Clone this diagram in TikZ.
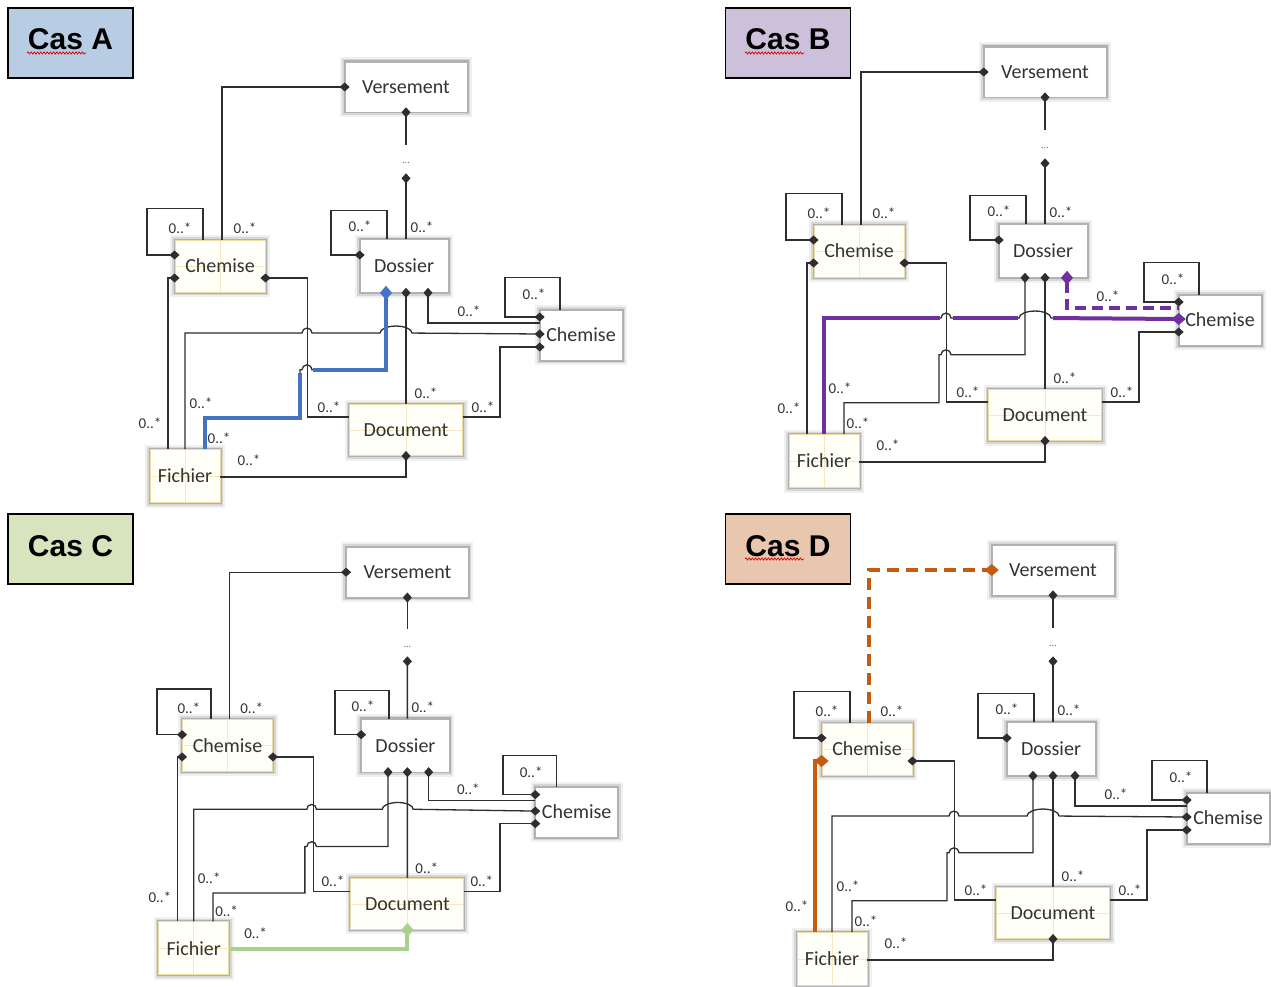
\documentclass[tikz,border=0pt]{standalone}
\usepackage{fontspec}
\setmainfont{Carlito}
\newfontfamily\titlefont{Liberation Sans}
\usetikzlibrary{arrows.meta,decorations.pathmorphing}

\definecolor{ink}{HTML}{2E2E2E}
\definecolor{txt}{HTML}{333333}
\definecolor{cream}{HTML}{FFFFF8}
\definecolor{creamedge}{HTML}{EFDDA6}
\definecolor{guide}{HTML}{F6E8C0}
\definecolor{tA}{HTML}{B8CCE4}
\definecolor{tB}{HTML}{CCC0DA}
\definecolor{tC}{HTML}{D7E4BD}
\definecolor{tD}{HTML}{E9C7AF}
\definecolor{hlA}{HTML}{4472C4}
\definecolor{hlB}{HTML}{7030A0}
\definecolor{hlC}{HTML}{A9D18E}
\definecolor{hlD}{HTML}{C55A11}

\tikzset{
  softshadow/.style={
    preaction={draw=black, opacity=0.06, line width=10pt},
    preaction={draw=black, opacity=0.10, line width=6pt},
    preaction={draw=black, opacity=0.18, line width=3pt}},
  classbox/.style={rectangle, inner sep=0pt, minimum height=50pt,
    font=\fontsize{20}{24}\selectfont, text=txt, softshadow},
  plainbox/.style={classbox, fill=white, draw=black!30, line width=0.6pt},
  creambox/.style={classbox, fill=cream, draw=creamedge, line width=0.9pt,
    path picture={\draw[draw=guide, line width=0.6pt]
      (path picture bounding box.north) -- (path picture bounding box.south)
      (path picture bounding box.west) -- (path picture bounding box.east);}},
  wire/.style={draw=ink, line width=1.3pt, >={Diamond[length=10pt,width=9pt]}},
  dfrom/.style={<-, shorten <=-5pt},
  dto/.style={->, shorten >=-5pt},
  mult/.style={font=\fontsize{15}{18}\selectfont, text=txt, inner sep=0pt},
  elision/.style={font=\fontsize{10}{11}\selectfont, text=black!60, inner sep=0pt},
  hl/.style={line width=4pt, >={Diamond[length=14pt,width=12pt]}},
  hlfrom/.style={<-, shorten <=-7pt},
  hlto/.style={->, shorten >=-7pt},
  titlebox/.style={draw=black, line width=1.3pt, minimum width=125pt, minimum height=70pt,
    font=\titlefont\bfseries\fontsize{30}{36}\selectfont, text height=22pt, text depth=8pt, inner sep=0pt},
  squiggle/.style={draw=red!85!black, line width=0.7pt, decorate,
    decoration={snake, amplitude=1.1pt, segment length=3.2pt}},
  linkCV/.style={}, linkDC/.style={}
}

% One class diagram; #1 is the prefix of its node names
\newcommand\casdiagram[1]{%
  % classes
  \node[plainbox, minimum width=122pt] (#1vers) at (406,87) {Versement};
  \node[creambox, minimum width=90pt, minimum height=52pt] (#1chemA) at (220,266) {Chemise};
  \node[plainbox, minimum width=88pt, minimum height=53pt] (#1dos) at (404,266) {Dossier};
  \node[plainbox, minimum width=82pt] (#1chemB) at (581,335) {Chemise};
  \node[creambox, minimum width=113pt, minimum height=51pt] (#1doc) at (406,430) {Document};
  \node[creambox, minimum width=70pt, minimum height=53pt] (#1fich) at (185,476) {Fichier};
  % elided levels between Versement and Dossier
  \draw[wire, dfrom] (#1vers.south) -- ++(0,33) coordinate (#1vtail);
  \node[elision] (#1vdots) at ([yshift=-51pt]#1vers.south) {...};
  \coordinate (#1vhead) at ([yshift=-66pt]#1vers.south);
  \draw[wire, dfrom] (#1vhead) -- ([xshift=2pt]#1dos.north);
  % associations
  \draw[wire, dfrom, linkCV] (#1vers.west) -| ([xshift=2pt]#1chemA.north);
  \draw[wire, dto] ([xshift=-17pt]#1chemA.north) -- ++(0,-31) -- ++(-56,0) |- ([yshift=11pt]#1chemA.west);
  \draw[wire, dfrom] ([yshift=-12pt]#1chemA.west) -| ([xshift=-17pt]#1fich.north);
  \draw[wire, dfrom] ([yshift=-12pt]#1chemA.east) -- ++(42,0) |- ([yshift=13pt]#1doc.west);
  \draw[wire, dto] ([xshift=-17pt]#1dos.north) -- ++(0,-29) -- ++(-56,0) |- ([yshift=11pt]#1dos.west);
  \draw[wire, dfrom, linkDC] ([xshift=24pt]#1dos.south) |- ([yshift=12pt]#1chemB.west);
  \draw[wire, dfrom] ([xshift=2pt]#1dos.south) -- (#1doc.north);
  \draw[wire, dfrom] ([xshift=-18pt]#1dos.south) -- ++(0,77) -- ++(-74,0)
    arc[start angle=0, end angle=180, radius=5pt] -- ++(-2,0) -- ++(0,48)
    -| ([xshift=20pt]#1fich.north);
  \draw[wire, dto] (#1fich.north) -- ++(0,-116) -- ++(117,0)
    arc[start angle=180, end angle=0, radius=5pt] -- ++(68,0)
    arc[start angle=180, end angle=0, x radius=16pt, y radius=7pt]
    -- ([yshift=1pt]#1chemB.west);
  \draw[wire, dto] ([yshift=-1pt]#1fich.east) -| (#1doc.south);
  \draw[wire, dto] ([yshift=13pt]#1doc.east) -- ++(37,0) |- ([yshift=-12pt]#1chemB.west);
  \draw[wire, dto] ([xshift=-21pt]#1chemB.north) -- ++(0,-32) -- ++(-55,0) |- ([yshift=18pt]#1chemB.west);
  % multiplicities
  \node[mult] (#1m1) at (180,228) {0..*};
  \node[mult] (#1m2) at (245,228) {0..*};
  \node[mult] (#1m3) at (360,226) {0..*};
  \node[mult] (#1m4) at (422,227) {0..*};
  \node[mult] (#1m5) at (534,294) {0..*};
  \node[mult] (#1m6) at (469,311) {0..*};
  \node[mult] (#1m7) at (426,393) {0..*};
  \node[mult] (#1m8) at (329,407) {0..*};
  \node[mult] (#1m9) at (483,407) {0..*};
  \node[mult] (#1m10) at (150,423) {0..*};
  \node[mult] (#1m11) at (201,403) {0..*};
  \node[mult] (#1m12) at (219,438) {0..*};
  \node[mult] (#1m13) at (249,460) {0..*};
}

\begin{document}
\begin{tikzpicture}[x=1pt, y=-1pt]
\useasboundingbox (0,0) rectangle (1271,987);
\fill[white] (0,0) rectangle (1271,987);

% case titles
\node[titlebox, fill=tA] (titleA) at (70.5,43) {Cas A};
\draw[squiggle] (27,53) -- (86,53);
\node[titlebox, fill=tB] (titleB) at (788,43) {Cas B};
\draw[squiggle] (745,53) -- (804,53);
\node[titlebox, fill=tC] (titleC) at (70.5,549) {Cas C};
\node[titlebox, fill=tD] (titleD) at (788,549) {Cas D};
\draw[squiggle] (745,559) -- (804,559);

% Cas A: Fichier -> Dossier
\begin{scope}
  \casdiagram{a-}
  \draw[hl, draw=hlA, hlfrom] ([xshift=-18pt]a-dos.south) -- ++(0,77) -- ++(-73,0);
  \draw[hl, draw=hlA] ([xshift=-18pt]a-dos.south) ++(-86,80) -- ++(0,45.5)
    -| ([xshift=20pt]a-fich.north);
\end{scope}

% Cas B: Fichier -> Chemise, Chemise -> Dossier
\begin{scope}[shift={(639,-15)}, linkDC/.style={draw=none}]
  \casdiagram{b-}
  \draw[hl, draw=hlB] (b-fich.north) -- ++(0,-116) -- ++(116,0);
  \draw[hl, draw=hlB] (b-fich.north) ++(129,-116) -- ++(65,0);
  \draw[hl, draw=hlB, hlto] (b-fich.north) ++(229,-116) -- ([yshift=1pt]b-chemB.west);
  \draw[hl, draw=hlB, dash pattern=on 11pt off 6pt, hlfrom]
    ([xshift=24pt]b-dos.south) |- ([yshift=12pt]b-chemB.west);
\end{scope}

% Cas C: Fichier -> Document
\begin{scope}[shift={(14.8,488.1)}, scale=0.967]
  \casdiagram{c-}
  \draw[hl, draw=hlC, hlto] ([yshift=-1pt]c-fich.east) -| (c-doc.south);
\end{scope}

% Cas D: Fichier -> Chemise, Chemise -> Versement
\begin{scope}[shift={(647,483)}, linkCV/.style={draw=none}]
  \casdiagram{d-}
  \draw[hl, draw=hlD, hlto] ([xshift=-17pt]d-fich.north) |- ([yshift=-12pt]d-chemA.west);
  \draw[hl, draw=hlD, dash pattern=on 12pt off 7pt, hlto]
    ([xshift=2pt]d-chemA.north) |- (d-vers.west);
\end{scope}
\end{tikzpicture}
\end{document}
